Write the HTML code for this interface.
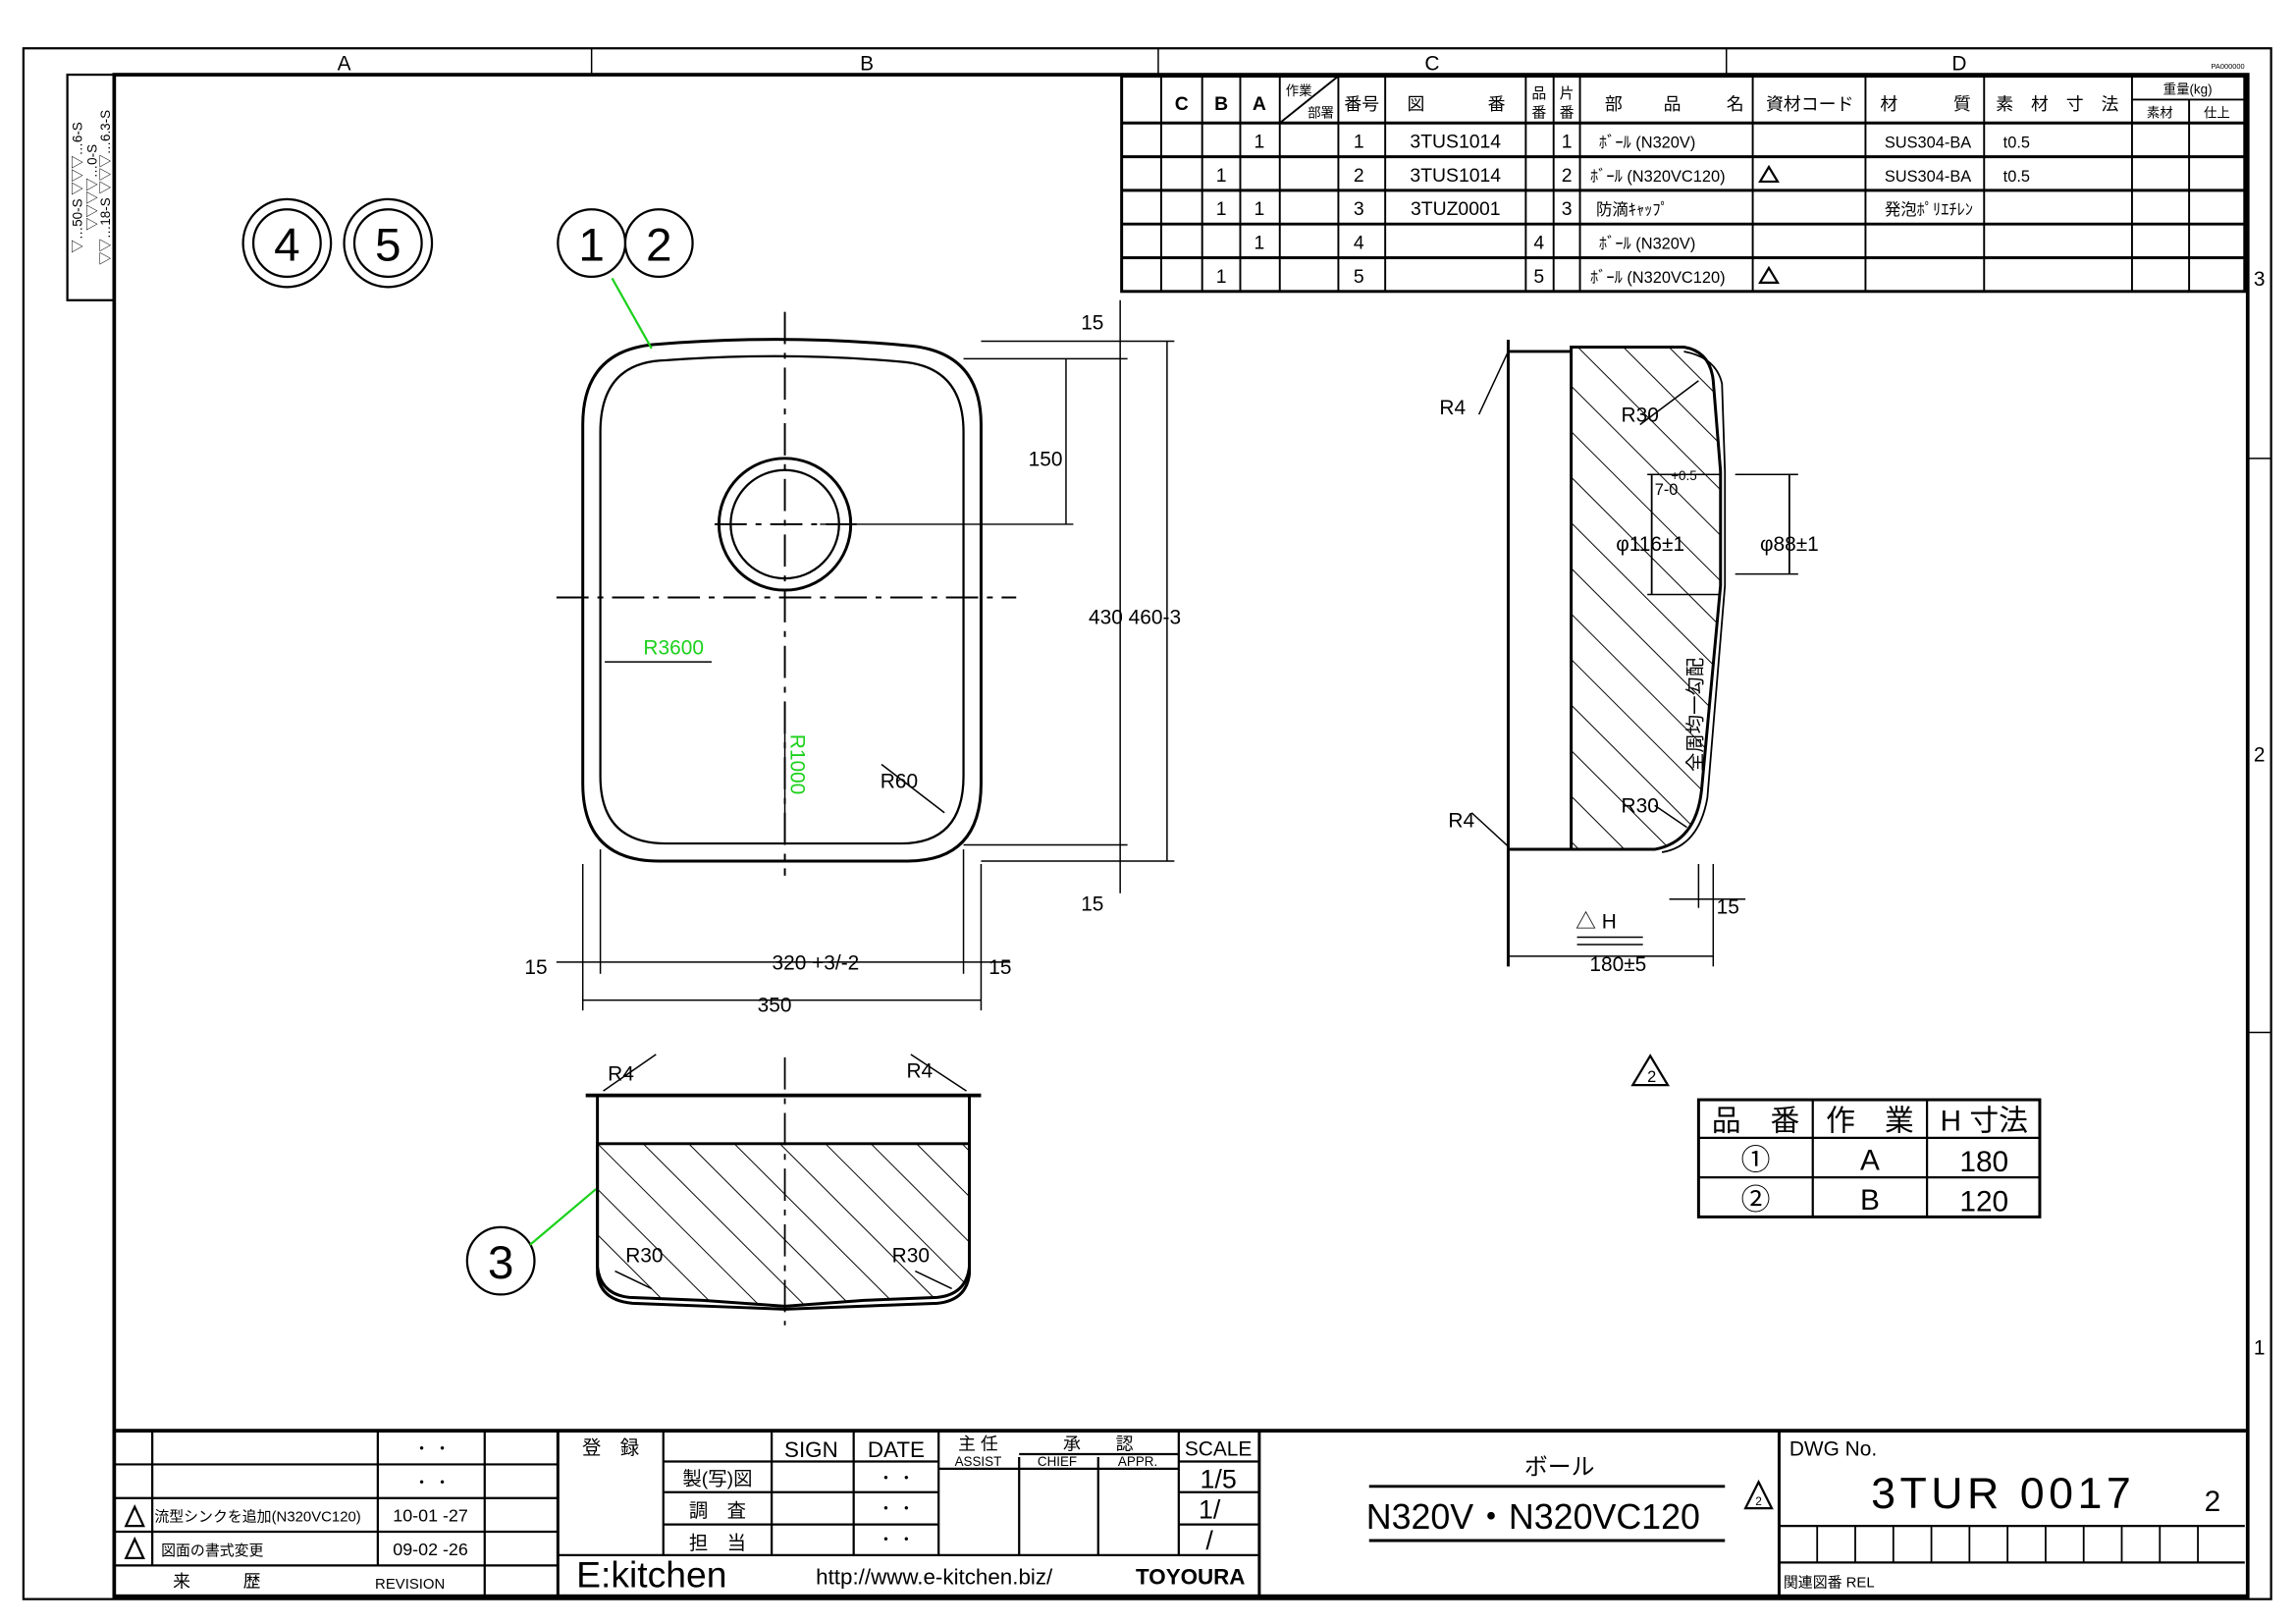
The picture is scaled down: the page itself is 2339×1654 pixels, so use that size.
<!DOCTYPE html>
<html><head><meta charset="utf-8"><style>
html,body{margin:0;padding:0;background:#fff;}
svg{display:block;}
text{font-family:"Liberation Sans","Noto Sans CJK JP",sans-serif;fill:#000;}
</style></head><body>
<svg width="2339" height="1654" viewBox="0 0 1568 1109" preserveAspectRatio="none" xmlns="http://www.w3.org/2000/svg">
<defs>
<pattern id="h" width="22" height="22" patternUnits="userSpaceOnUse" patternTransform="rotate(-45)">
<line x1="0" y1="0" x2="0" y2="22" stroke="#000" stroke-width="1.3"/>
</pattern>
</defs>
<g fill="none" stroke="#000">
<rect x="16" y="33" width="1535" height="1059" stroke-width="1.5"/>
<rect x="78" y="51" width="1457" height="1039" stroke-width="2.5"/>
<line x1="404" y1="33" x2="404" y2="51"/><line x1="791" y1="33" x2="791" y2="51"/><line x1="1179" y1="33" x2="1179" y2="51"/>
<line x1="1535" y1="313" x2="1551" y2="313"/><line x1="1535" y1="705" x2="1551" y2="705"/>
<rect x="46" y="51" width="32" height="154" stroke-width="1.5"/>
<g stroke-width="1.3">
<rect x="766" y="52" width="767" height="147" stroke-width="2"/>
<line x1="766" y1="84" x2="1533" y2="84" stroke-width="2"/>
<line x1="766" y1="107" x2="1533" y2="107" stroke-width="2"/>
<line x1="766" y1="130" x2="1533" y2="130" stroke-width="2"/>
<line x1="766" y1="153" x2="1533" y2="153" stroke-width="2"/>
<line x1="766" y1="176" x2="1533" y2="176" stroke-width="2"/>
<line x1="793" y1="52" x2="793" y2="199"/><line x1="821" y1="52" x2="821" y2="199"/><line x1="847" y1="52" x2="847" y2="199"/>
<line x1="874" y1="52" x2="874" y2="199"/><line x1="914" y1="52" x2="914" y2="199"/><line x1="946" y1="52" x2="946" y2="199"/>
<line x1="1042" y1="52" x2="1042" y2="199"/><line x1="1061" y1="52" x2="1061" y2="199"/><line x1="1079" y1="52" x2="1079" y2="199"/>
<line x1="1197" y1="52" x2="1197" y2="199"/><line x1="1274" y1="52" x2="1274" y2="199"/><line x1="1355" y1="52" x2="1355" y2="199"/>
<line x1="1456" y1="52" x2="1456" y2="199"/><line x1="1495" y1="68" x2="1495" y2="199"/>
<line x1="1456" y1="68" x2="1533" y2="68"/>
<line x1="874" y1="84" x2="914" y2="52"/>
</g>
<g stroke-width="1.5">
<line x1="78" y1="977" x2="1535" y2="977" stroke-width="2.5"/>
<line x1="104" y1="977" x2="104" y2="1069"/><line x1="258" y1="977" x2="258" y2="1069"/><line x1="331" y1="977" x2="331" y2="1090"/>
<line x1="78" y1="1000" x2="381" y2="1000"/><line x1="78" y1="1023" x2="381" y2="1023"/><line x1="78" y1="1046" x2="381" y2="1046"/><line x1="78" y1="1069" x2="381" y2="1069"/>
<line x1="381" y1="977" x2="381" y2="1090" stroke-width="2"/>
<line x1="453" y1="977" x2="453" y2="1062"/><line x1="527" y1="977" x2="527" y2="1062"/><line x1="583" y1="977" x2="583" y2="1062"/>
<line x1="641" y1="977" x2="641" y2="1062"/><line x1="696" y1="995" x2="696" y2="1062"/><line x1="750" y1="995" x2="750" y2="1062"/><line x1="805" y1="977" x2="805" y2="1062"/>
<line x1="860" y1="977" x2="860" y2="1090" stroke-width="2"/>
<line x1="453" y1="998" x2="641" y2="998"/><line x1="381" y1="1062" x2="860" y2="1062"/>
<line x1="453" y1="1019" x2="641" y2="1019"/><line x1="453" y1="1041" x2="641" y2="1041"/>
<line x1="696" y1="993" x2="805" y2="993"/><line x1="641" y1="1003" x2="805" y2="1003"/>
<line x1="805" y1="998" x2="860" y2="998"/><line x1="805" y1="1019" x2="860" y2="1019"/><line x1="805" y1="1041" x2="860" y2="1041"/>
<line x1="935" y1="1015" x2="1178" y2="1015" stroke-width="2"/><line x1="935" y1="1052" x2="1178" y2="1052" stroke-width="2"/>
<line x1="1215" y1="977" x2="1215" y2="1090" stroke-width="2"/>
<line x1="1215" y1="1042" x2="1533" y2="1042"/><line x1="1215" y1="1067" x2="1533" y2="1067"/>
</g>
<g stroke-width="1.2">
<line x1="1241" y1="1042" x2="1241" y2="1067"/><line x1="1267" y1="1042" x2="1267" y2="1067"/><line x1="1293" y1="1042" x2="1293" y2="1067"/>
<line x1="1319" y1="1042" x2="1319" y2="1067"/><line x1="1345" y1="1042" x2="1345" y2="1067"/><line x1="1371" y1="1042" x2="1371" y2="1067"/>
<line x1="1397" y1="1042" x2="1397" y2="1067"/><line x1="1423" y1="1042" x2="1423" y2="1067"/><line x1="1449" y1="1042" x2="1449" y2="1067"/>
<line x1="1475" y1="1042" x2="1475" y2="1067"/><line x1="1501" y1="1042" x2="1501" y2="1067"/>
</g>
<circle cx="196" cy="166" r="30" stroke-width="1.5"/><circle cx="196" cy="166" r="23" stroke-width="1.5"/>
<circle cx="265" cy="166" r="30" stroke-width="1.5"/><circle cx="265" cy="166" r="23" stroke-width="1.5"/>
<circle cx="404" cy="166" r="23" stroke-width="1.5"/><circle cx="450" cy="166" r="23" stroke-width="1.5"/>
<circle cx="342" cy="861" r="23" stroke-width="1.5"/>
<path d="M398 290 Q398 238 450 235 Q536 228 620 236 Q670 240 670 290 L670 535 Q670 588 620 588 L450 588 Q398 588 398 535 Z" stroke-width="2"/>
<path d="M410 295 Q410 247 455 246 Q536 240 615 247 Q658 250 658 295 L658 530 Q658 576 615 576 L455 576 Q410 576 410 530 Z" stroke-width="1.5"/>
<circle cx="536" cy="358" r="45" stroke-width="2"/><circle cx="536" cy="358" r="37" stroke-width="1.5"/>
<g stroke-width="1.3" stroke-dasharray="22,6,4,6">
<line x1="536" y1="213" x2="536" y2="598"/><line x1="380" y1="408" x2="694" y2="408"/><line x1="488" y1="358" x2="585" y2="358"/>
</g>
<g stroke-width="1">
<line x1="670" y1="233" x2="802" y2="233"/><line x1="658" y1="245" x2="770" y2="245"/>
<line x1="560" y1="358" x2="733" y2="358"/>
<line x1="658" y1="577" x2="770" y2="577"/><line x1="670" y1="588" x2="802" y2="588"/>
<line x1="728" y1="245" x2="728" y2="358"/><line x1="765" y1="205" x2="765" y2="610"/><line x1="797" y1="233" x2="797" y2="588"/>
<line x1="398" y1="590" x2="398" y2="690"/><line x1="410" y1="580" x2="410" y2="665"/><line x1="658" y1="580" x2="658" y2="665"/><line x1="670" y1="590" x2="670" y2="690"/>
<line x1="380" y1="657" x2="690" y2="657"/><line x1="398" y1="683" x2="670" y2="683"/>
<line x1="602" y1="522" x2="645" y2="555"/>
</g>
<line x1="418" y1="190" x2="445" y2="238" stroke="#1bd11b" stroke-width="1.5"/>
<line x1="413" y1="452" x2="486" y2="452" stroke-width="1"/>
<line x1="536" y1="500" x2="536" y2="577" stroke-width="1"/>
<line x1="362" y1="850" x2="407" y2="812" stroke="#1bd11b" stroke-width="1.5"/>
<path d="M408 781 L662 781 L662 865 Q660 884 640 886 L590 888 L536 892 L480 888 L430 886 Q410 884 408 865 Z" fill="url(#h)" stroke-width="2"/>
<path d="M408 748 L408 870 Q410 888 432 890 L536 894 L640 890 Q660 888 662 870 L662 748" stroke-width="2"/>
<line x1="400" y1="748" x2="670" y2="748" stroke-width="2.5"/>
<line x1="412" y1="745" x2="448" y2="720" stroke-width="1"/><line x1="622" y1="720" x2="660" y2="745" stroke-width="1"/>
<line x1="536" y1="722" x2="536" y2="905" stroke-width="1.2" stroke-dasharray="22,6,4,6"/>
<line x1="420" y1="868" x2="445" y2="880" stroke-width="1"/><line x1="625" y1="868" x2="650" y2="880" stroke-width="1"/>
<line x1="1030" y1="232" x2="1030" y2="660" stroke-width="2"/>
<line x1="1030" y1="240" x2="1073" y2="240" stroke-width="2"/><line x1="1030" y1="580" x2="1073" y2="580" stroke-width="2"/>
<path d="M1073 237 L1150 237 Q1168 240 1170 260 L1175 322 L1175 400 L1162 540 Q1158 575 1130 580 L1073 580 Z" fill="url(#h)" stroke-width="2"/>
<path d="M1150 240 Q1172 244 1176 262 L1178 322 L1178 400 L1166 545 Q1160 578 1135 582" stroke-width="1.2"/>
<line x1="1128" y1="324" x2="1128" y2="406" stroke-width="1.2"/>
<line x1="1125" y1="324" x2="1175" y2="324" stroke-width="1"/><line x1="1125" y1="406" x2="1175" y2="406" stroke-width="1"/>
<line x1="1185" y1="324" x2="1228" y2="324" stroke-width="1"/><line x1="1185" y1="392" x2="1228" y2="392" stroke-width="1"/>
<line x1="1222" y1="324" x2="1222" y2="392" stroke-width="1.2"/>
<line x1="1010" y1="283" x2="1030" y2="240" stroke-width="1"/><line x1="1005" y1="555" x2="1030" y2="578" stroke-width="1"/>
<line x1="1120" y1="290" x2="1160" y2="260" stroke-width="1"/><line x1="1130" y1="550" x2="1152" y2="565" stroke-width="1"/>
<line x1="1030" y1="653" x2="1170" y2="653" stroke-width="1"/><line x1="1170" y1="590" x2="1170" y2="660" stroke-width="1"/>
<line x1="1160" y1="590" x2="1160" y2="620" stroke-width="1"/><line x1="1140" y1="614" x2="1192" y2="614" stroke-width="1"/>
<line x1="1077" y1="640" x2="1122" y2="640" stroke-width="1"/><line x1="1077" y1="645" x2="1122" y2="645" stroke-width="1"/>
<rect x="1160" y="751" width="233" height="80" stroke-width="2"/>
<line x1="1238" y1="751" x2="1238" y2="831" stroke-width="1.5"/><line x1="1316" y1="751" x2="1316" y2="831" stroke-width="1.5"/>
<line x1="1160" y1="777" x2="1393" y2="777" stroke-width="1.5"/><line x1="1160" y1="804" x2="1393" y2="804" stroke-width="1.5"/>
<path d="M1115 741 L1127 721 L1139 741 Z" stroke-width="1.5"/>
<path d="M1192 1030 L1201 1012 L1210 1030 Z" stroke-width="1.5"/>
<path d="M86 1042 L92 1029 L98 1042 Z" stroke-width="1.5"/><path d="M86 1064 L92 1051 L98 1064 Z" stroke-width="1.5"/>
<path d="M1202 124 L1208 114 L1214 124 Z" stroke-width="1.5"/><path d="M1202 193 L1208 183 L1214 193 Z" stroke-width="1.5"/>
</g>
<g font-size="14" text-anchor="middle">
<text x="235" y="48">A</text><text x="592" y="48">B</text><text x="978" y="48">C</text><text x="1338" y="48">D</text>
<text x="1543" y="195">3</text><text x="1543" y="520">2</text><text x="1543" y="925">1</text>
</g>
<g font-size="13" text-anchor="middle">
<text x="807" y="75" font-weight="bold">C</text><text x="834" y="75" font-weight="bold">B</text><text x="860" y="75" font-weight="bold">A</text>
<text x="887" y="65" font-size="9">作業</text><text x="902" y="80" font-size="9">部署</text>
<text x="930" y="75" font-size="12">番号</text><text x="967" y="75" font-size="12">図</text><text x="1022" y="75" font-size="12">番</text>
<text x="1051" y="67" font-size="10">品</text><text x="1051" y="80" font-size="10">番</text><text x="1070" y="67" font-size="10">片</text><text x="1070" y="80" font-size="10">番</text>
<text x="1102" y="75" font-size="12">部</text><text x="1142" y="75" font-size="12">品</text><text x="1185" y="75" font-size="12">名</text>
<text x="1236" y="75" font-size="12">資材コード</text><text x="1290" y="75" font-size="12">材</text><text x="1340" y="75" font-size="12">質</text>
<text x="1405" y="75" font-size="12">素　材　寸　法</text><text x="1494" y="64" font-size="9">重量(kg)</text><text x="1475" y="80" font-size="9">素材</text><text x="1514" y="80" font-size="9">仕上</text>
<text x="860" y="101">1</text><text x="928" y="101">1</text><text x="994" y="101">3TUS1014</text><text x="1070" y="101">1</text>
<text x="834" y="124">1</text><text x="928" y="124">2</text><text x="994" y="124">3TUS1014</text><text x="1070" y="124">2</text>
<text x="834" y="147">1</text><text x="860" y="147">1</text><text x="928" y="147">3</text><text x="994" y="147">3TUZ0001</text><text x="1070" y="147">3</text>
<text x="860" y="170">1</text><text x="928" y="170">4</text><text x="1051" y="170">4</text>
<text x="834" y="193">1</text><text x="928" y="193">5</text><text x="1051" y="193">5</text>
</g>
<g font-size="11" text-anchor="start">
<text x="1092" y="101">ﾎﾞｰﾙ (N320V)</text><text x="1086" y="124">ﾎﾞｰﾙ (N320VC120)</text><text x="1090" y="147">防滴ｷｬｯﾌﾟ</text>
<text x="1092" y="170">ﾎﾞｰﾙ (N320V)</text><text x="1086" y="193">ﾎﾞｰﾙ (N320VC120)</text>
<text x="1287" y="101">SUS304-BA</text><text x="1287" y="124">SUS304-BA</text><text x="1287" y="147">発泡ﾎﾟﾘｴﾁﾚﾝ</text>
<text x="1368" y="101">t0.5</text><text x="1368" y="124">t0.5</text>
</g>
<g font-size="32" text-anchor="middle">
<text x="196" y="178">4</text><text x="265" y="178">5</text><text x="404" y="178">1</text><text x="450" y="178">2</text><text x="342" y="873">3</text>
</g>
<g font-size="14" text-anchor="middle">
<text x="746" y="225">15</text><text x="714" y="318">150</text><text x="775" y="426">430 460-3</text><text x="746" y="622">15</text>
<text x="366" y="665">15</text><text x="557" y="662">320 +3/-2</text><text x="683" y="665">15</text><text x="529" y="691">350</text>
<text x="614" y="538">R60</text><text x="424" y="738">R4</text><text x="628" y="736">R4</text><text x="440" y="862">R30</text><text x="622" y="862">R30</text>
<text x="992" y="283">R4</text><text x="998" y="565">R4</text><text x="1120" y="288">R30</text><text x="1120" y="555">R30</text>
<text x="1127" y="376">φ116±1</text><text x="1222" y="376">φ88±1</text><text x="1180" y="624">15</text>
<text x="1090" y="634">△ H</text><text x="1105" y="663">180±5</text>
<text x="1138" y="338" font-size="11">7-0</text><text x="1150" y="328" font-size="9">+0.5</text>
<text x="1128" y="739" font-size="11">2</text>
</g>
<text x="1162" y="488" font-size="13" text-anchor="middle" transform="rotate(-90 1162 488)">全周均一勾配</text>
<text x="460" y="447" font-size="14" text-anchor="middle" style="fill:#1bd11b">R3600</text>
<text x="540" y="522" font-size="14" text-anchor="middle" transform="rotate(90 540 522)" style="fill:#1bd11b">R1000</text>
<g font-size="20" text-anchor="middle">
<text x="1199" y="772">品　番</text><text x="1277" y="772">作　業</text><text x="1355" y="772">H 寸法</text>
<text x="1199" y="799">①</text><text x="1277" y="799">A</text><text x="1355" y="800">180</text>
<text x="1199" y="826">②</text><text x="1277" y="826">B</text><text x="1355" y="827">120</text>
</g>
<g font-size="11" text-anchor="middle">
<text x="295" y="993">・ ・</text><text x="295" y="1016">・ ・</text>
<text x="176" y="1039" font-size="10">流型シンクを追加(N320VC120)</text><text x="294" y="1039" font-size="12">10-01 -27</text>
<text x="145" y="1062" font-size="10">図面の書式変更</text><text x="294" y="1062" font-size="12">09-02 -26</text>
<text x="148" y="1084" font-size="12">来　　　歴</text><text x="280" y="1085" font-size="10">REVISION</text>
<text x="417" y="993" font-size="13">登　録</text>
<text x="554" y="995" font-size="15">SIGN</text><text x="612" y="995" font-size="15">DATE</text>
<text x="668" y="990" font-size="12">主 任</text><text x="668" y="1001" font-size="9">ASSIST</text>
<text x="750" y="990" font-size="12">承　　認</text><text x="722" y="1001" font-size="9">CHIEF</text><text x="777" y="1001" font-size="9">APPR.</text>
<text x="832" y="994" font-size="14">SCALE</text><text x="832" y="1016" font-size="18">1/5</text><text x="826" y="1037" font-size="18">1/</text><text x="826" y="1058" font-size="18">/</text>
<text x="490" y="1014" font-size="13">製(写)図</text><text x="490" y="1036" font-size="13">調　査</text><text x="490" y="1058" font-size="13">担　当</text>
<text x="612" y="1013">・ ・</text><text x="612" y="1034">・ ・</text><text x="612" y="1055">・ ・</text>
<text x="445" y="1084" font-size="25">E:kitchen</text><text x="638" y="1082" font-size="15">http://www.e-kitchen.biz/</text>
<text x="813" y="1082" font-size="15" font-weight="bold">TOYOURA</text>
<text x="1065" y="1007" font-size="16">ボール</text><text x="1047" y="1044" font-size="24">N320V・N320VC120</text>
<text x="1201" y="1028" font-size="8">2</text>
<text x="1368" y="1030" font-size="30" letter-spacing="3">3TUR 0017</text><text x="1511" y="1032" font-size="20">2</text>
</g>
<text x="1222" y="994" font-size="14">DWG No.</text>
<text x="1218" y="1084" font-size="10">関連図番 REL</text>
<text x="1510" y="47" font-size="5">PA000000</text>
<g font-size="9" text-anchor="middle">
<text x="56" y="128" transform="rotate(-90 56 128)">▽…50-S ▽▽▽…6-S</text>
<text x="66" y="128" transform="rotate(-90 66 128)">▽▽▽▽…0-S</text>
<text x="75" y="128" transform="rotate(-90 75 128)">▽▽…18-S ▽▽▽…6.3-S</text>
</g>
</svg>
</body></html>
